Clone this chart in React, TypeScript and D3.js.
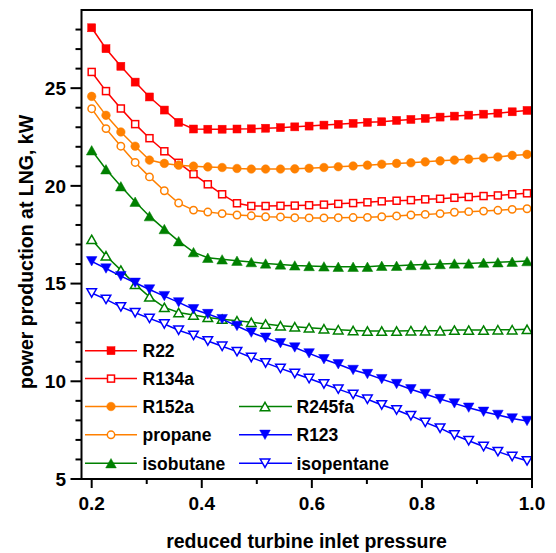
import React from "react";
import * as d3 from "d3";

const xValues = [0.200, 0.226, 0.253, 0.279, 0.305, 0.332, 0.358, 0.385, 0.411, 0.437, 0.464, 0.490, 0.516, 0.543, 0.569, 0.595, 0.622, 0.648, 0.675, 0.701, 0.727, 0.754, 0.780, 0.806, 0.833, 0.859, 0.885, 0.912, 0.938, 0.964, 0.991];

const r22 = [28.09, 27.02, 26.12, 25.31, 24.55, 23.88, 23.25, 22.91, 22.90, 22.90, 22.91, 22.92, 22.95, 22.98, 23.02, 23.06, 23.11, 23.15, 23.20, 23.25, 23.28, 23.35, 23.40, 23.45, 23.52, 23.57, 23.62, 23.67, 23.72, 23.79, 23.86];
const r134a = [25.83, 24.85, 23.96, 23.16, 22.44, 21.77, 21.18, 20.60, 20.08, 19.57, 19.11, 18.97, 18.97, 18.98, 18.99, 19.01, 19.04, 19.08, 19.12, 19.16, 19.21, 19.24, 19.27, 19.31, 19.34, 19.39, 19.43, 19.48, 19.51, 19.57, 19.62];
const r152a = [24.58, 23.61, 22.76, 22.03, 21.32, 21.15, 21.06, 21.01, 20.97, 20.94, 20.89, 20.86, 20.86, 20.86, 20.87, 20.90, 20.94, 20.98, 21.02, 21.06, 21.11, 21.15, 21.18, 21.23, 21.28, 21.32, 21.37, 21.43, 21.48, 21.56, 21.61];
const propane = [23.95, 22.93, 22.03, 21.20, 20.46, 19.75, 19.12, 18.76, 18.66, 18.58, 18.51, 18.47, 18.42, 18.41, 18.37, 18.36, 18.36, 18.37, 18.38, 18.39, 18.42, 18.46, 18.51, 18.54, 18.58, 18.65, 18.68, 18.71, 18.75, 18.80, 18.83];
const isobutane = [21.82, 20.85, 19.98, 19.19, 18.45, 17.79, 17.17, 16.61, 16.32, 16.24, 16.17, 16.10, 16.03, 15.98, 15.93, 15.90, 15.88, 15.86, 15.86, 15.86, 15.91, 15.91, 15.95, 15.98, 16.00, 16.03, 16.03, 16.07, 16.09, 16.12, 16.15];
const r245fa = [17.26, 16.42, 15.69, 14.96, 14.32, 13.78, 13.52, 13.39, 13.27, 13.18, 13.10, 13.02, 12.93, 12.84, 12.79, 12.74, 12.69, 12.64, 12.60, 12.57, 12.57, 12.57, 12.59, 12.59, 12.59, 12.62, 12.62, 12.62, 12.64, 12.64, 12.66];
const r123 = [16.14, 15.77, 15.38, 15.04, 14.70, 14.36, 14.04, 13.69, 13.44, 13.18, 12.83, 12.49, 12.23, 11.95, 11.73, 11.43, 11.13, 10.87, 10.58, 10.37, 10.11, 9.86, 9.59, 9.35, 9.09, 8.87, 8.65, 8.44, 8.28, 8.10, 7.97];
const isopentane = [14.52, 14.19, 13.81, 13.51, 13.22, 12.93, 12.61, 12.35, 12.06, 11.79, 11.52, 11.22, 10.94, 10.66, 10.40, 10.14, 9.86, 9.60, 9.33, 9.08, 8.79, 8.53, 8.24, 7.90, 7.60, 7.25, 6.96, 6.66, 6.40, 6.15, 5.93];

const seriesNames = ["R22", "R134a", "R152a", "propane", "isobutane", "R245fa", "R123", "isopentane"];
const seriesValues = [r22, r134a, r152a, propane, isobutane, r245fa, r123, isopentane];
const seriesColors = ["#ff0000", "#ff0000", "#ff8000", "#ff8000", "#008000", "#008000", "#0000ff", "#0000ff"];
const seriesShapes = ["square", "square", "circle", "circle", "up", "up", "down", "down"];
const seriesFilled = [true, false, true, false, true, false, true, false];

const xMajorTicks = [0.2, 0.4, 0.6, 0.8, 1.0];
const xMinorTicks = [0.3, 0.5, 0.7, 0.9];
const yMajorTicks = [5, 10, 15, 20, 25];
const yMinorTicks = [6, 7, 8, 9, 11, 12, 13, 14, 16, 17, 18, 19, 21, 22, 23, 24, 26, 27, 28];

const xTitle = "reduced turbine inlet pressure";
const yTitle = "power production at LNG, kW";

const FONT = "'Liberation Sans', Arial, Helvetica, sans-serif";

function Marker({ shape, filled, color, x, y }: { shape: string; filled: boolean; color: string; x: number; y: number }) {
  const fill = filled ? color : "#ffffff";
  const sw = 1.5;
  if (shape === "square") {
    const s = filled ? 8 : 7;
    return <rect x={x - s / 2} y={y - s / 2} width={s} height={s} fill={fill} stroke={color} strokeWidth={filled ? 0.5 : sw} />;
  }
  if (shape === "circle") {
    return <circle cx={x} cy={y} r={filled ? 4.3 : 3.7} fill={fill} stroke={color} strokeWidth={filled ? 0.5 : sw} />;
  }
  const h = filled ? 4.7 : 4.2;
  const w = filled ? 5.3 : 4.8;
  const pts = shape === "up"
    ? [[x, y - h], [x + w, y + h], [x - w, y + h]]
    : [[x, y + h], [x + w, y - h], [x - w, y - h]];
  return <polygon points={pts.map((p) => p.join(",")).join(" ")} fill={fill} stroke={color} strokeWidth={filled ? 0.5 : sw} strokeLinejoin="miter" />;
}

export default function App() {
  const W = 556, H = 553;
  const left = 81.5, right = 532, top = 10, bottom = 479;
  const x = d3.scaleLinear().domain([0.1815, 1.0]).range([left, right]);
  const y = d3.scaleLinear().domain([5, 29]).range([bottom, top]);
  const line = d3.line<number>().x((_, i) => x(xValues[i])).y((v) => y(v));

  const legendLeft = [0, 1, 2, 3, 4];
  const legendRight = [5, 6, 7];
  const rowY = [350.7, 378.6, 406.5, 434.8, 463.2];

  return (
    <svg width={W} height={H} style={{ position: "absolute", left: 0, top: 0, background: "#fff" }} fontFamily={FONT}>
      <rect x={0} y={0} width={W} height={H} fill="#fff" />
      {seriesValues.map((vals, si) => (
        <g key={si}>
          <path d={line(vals) || ""} fill="none" stroke={seriesColors[si]} strokeWidth={1.5} />
          {vals.map((v, i) => (
            <Marker key={i} shape={seriesShapes[si]} filled={seriesFilled[si]} color={seriesColors[si]} x={x(xValues[i])} y={y(v)} />
          ))}
        </g>
      ))}
      {legendLeft.map((si, r) => (
        <g key={"ll" + si}>
          <line x1={85} x2={137} y1={rowY[r]} y2={rowY[r]} stroke={seriesColors[si]} strokeWidth={1.5} />
          <Marker shape={seriesShapes[si]} filled={seriesFilled[si]} color={seriesColors[si]} x={111} y={rowY[r]} />
          <text x={142.5} y={rowY[r] + 6.5} fontSize={17.5} fontWeight="bold" fill="#000">{seriesNames[si]}</text>
        </g>
      ))}
      {legendRight.map((si, r) => (
        <g key={"lr" + si}>
          <line x1={239} x2={292} y1={rowY[r + 2]} y2={rowY[r + 2]} stroke={seriesColors[si]} strokeWidth={1.5} />
          <Marker shape={seriesShapes[si]} filled={seriesFilled[si]} color={seriesColors[si]} x={265} y={rowY[r + 2]} />
          <text x={296.5} y={rowY[r + 2] + 6.5} fontSize={17.5} fontWeight="bold" fill="#000">{seriesNames[si]}</text>
        </g>
      ))}
      <rect x={left} y={top} width={right - left} height={bottom - top} fill="none" stroke="#000" strokeWidth={2} />
      {xMajorTicks.map((t) => (
        <g key={"xm" + t}>
          <line x1={x(t)} x2={x(t)} y1={bottom} y2={bottom + 9} stroke="#000" strokeWidth={2} />
          <text x={x(t)} y={510} textAnchor="middle" fontSize={19} fontWeight="bold">{t.toFixed(1)}</text>
        </g>
      ))}
      {xMinorTicks.map((t) => (
        <line key={"xn" + t} x1={x(t)} x2={x(t)} y1={bottom} y2={bottom + 5} stroke="#000" strokeWidth={2} />
      ))}
      {yMajorTicks.map((t) => (
        <g key={"ym" + t}>
          <line x1={left - 11} x2={left} y1={y(t)} y2={y(t)} stroke="#000" strokeWidth={2} />
          <text x={66} y={y(t) + 6.8} textAnchor="end" fontSize={19} fontWeight="bold">{t}</text>
        </g>
      ))}
      {yMinorTicks.map((t) => (
        <line key={"yn" + t} x1={left - 6} x2={left} y1={y(t)} y2={y(t)} stroke="#000" strokeWidth={2} />
      ))}
      <text x={306.5} y={548} textAnchor="middle" fontSize={19.5} fontWeight="bold">{xTitle}</text>
      <text transform={`translate(33, 252) rotate(-90)`} textAnchor="middle" fontSize={19.5} fontWeight="bold">{yTitle}</text>
    </svg>
  );
}
